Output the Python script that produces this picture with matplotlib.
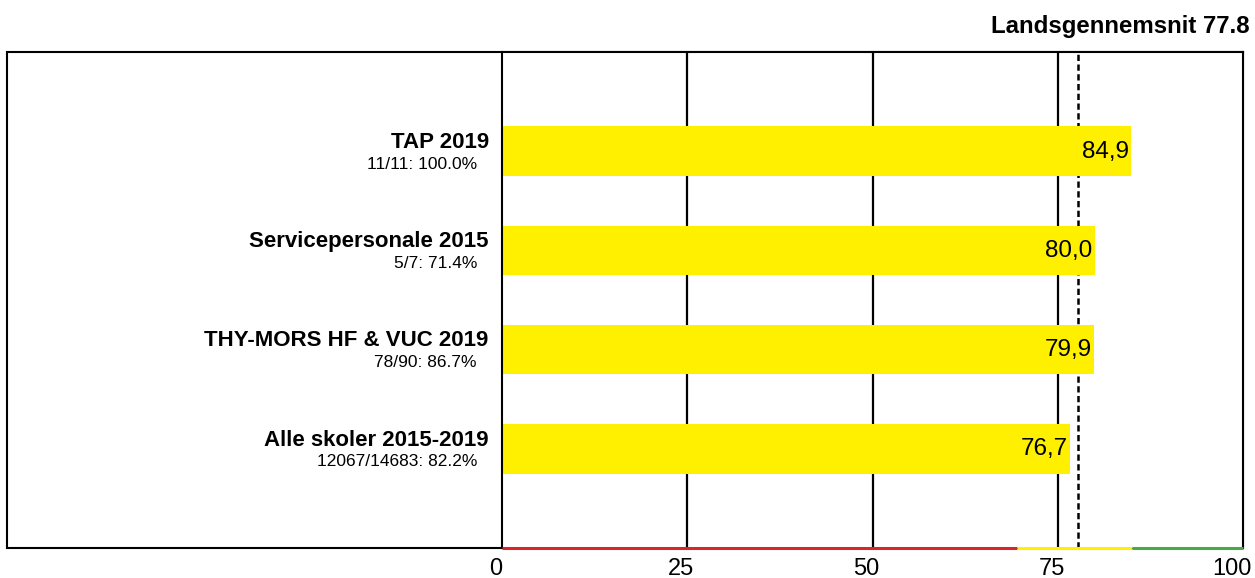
import matplotlib
matplotlib.use('Agg')
import matplotlib.pyplot as plt
from matplotlib.patches import Rectangle
from matplotlib.transforms import ScaledTranslation

plt.rcParams['font.family'] = ['Liberation Sans', 'DejaVu Sans']

## DATA

# groups, top to bottom
groups = ['TAP 2019', 'Servicepersonale 2015', 'THY-MORS HF & VUC 2019', 'Alle skoler 2015-2019']
answers = ['11/11: 100.0%', '5/7: 71.4%', '78/90: 86.7%', '12067/14683: 82.2%']
scores = [84.9, 80.0, 79.9, 76.7]

# national average
average = 77.8

# ticks and the coloured scale under the axis
ticks = [0, 25, 50, 75, 100]
zones = [(0, 69.5, '#D9262B'), (69.5, 85, '#FFF000'), (85, 100, '#46AA46')]

bar_color = '#FFF000'


def draw():
    fig = plt.figure(figsize=(12.55, 5.78), dpi=100)
    ax = fig.add_axes([502 / 1255, 30 / 578, 741 / 1255, 496 / 578])

    pos = list(range(len(groups)))

    # grid lines behind bars
    for t in ticks[1:-1]:
        ax.axvline(t, color='black', lw=1.6, zorder=1)
    ax.axvline(average, color='black', lw=1.8, ls=(0, (2.5, 1.4)), zorder=1)

    ax.barh(pos, scores, height=0.5, color=bar_color, zorder=2)

    # value labels in the bar end
    for y, v in zip(pos, scores):
        ax.annotate(('%.1f' % v).replace('.', ','), xy=(v, y), xytext=(-1.5, -0.5),
                    textcoords='offset points', ha='right', va='center',
                    fontsize=17.5, zorder=3)

    # group labels left of the plot
    for y, g, a in zip(pos, groups, answers):
        ax.annotate(g, xy=(0, y), xycoords=('axes fraction', 'data'),
                    xytext=(-9.5, 6.3), textcoords='offset points',
                    ha='right', va='center', fontsize=16, fontweight='bold')
        ax.annotate(a, xy=(0, y), xycoords=('axes fraction', 'data'),
                    xytext=(-18, -9.4), textcoords='offset points',
                    ha='right', va='center', fontsize=12.5)

    ax.set_xlim(0, 100)
    ax.set_ylim(len(groups), -1)
    ax.set_xticks(ticks)
    ax.set_yticks([])
    ax.tick_params(axis='x', length=0, pad=7, labelsize=17)

    # tick labels sit a bit left of their lines, the last one pulled in
    labels = ax.get_xticklabels()
    for i, lab in enumerate(labels):
        dx = -11 if i == len(labels) - 1 else -6
        lab.set_transform(lab.get_transform() + ScaledTranslation(dx / 100, 0, fig.dpi_scale_trans))

    for s in ['left', 'right', 'top']:
        ax.spines[s].set_linewidth(1.5)
    ax.spines['bottom'].set_visible(False)

    # coloured scale at the bottom
    for x0, x1, c in zones:
        ax.plot([x0, x1], [len(groups), len(groups)], color=c, lw=2.2,
                solid_capstyle='butt', clip_on=False, zorder=4)

    # outer box round labels and plot
    fig.add_artist(Rectangle((7 / 1255, 30 / 578), (1243 - 7) / 1255, 496 / 578,
                             fill=False, lw=1.5, ec='black',
                             transform=fig.transFigure, zorder=0))

    fig.text(1250 / 1255, 1 - 27 / 578, 'Landsgennemsnit %.1f' % average,
             ha='right', va='center', fontsize=17.3, fontweight='bold')

    fig.savefig('out.png', dpi=100)


def main():
    draw()

main()
